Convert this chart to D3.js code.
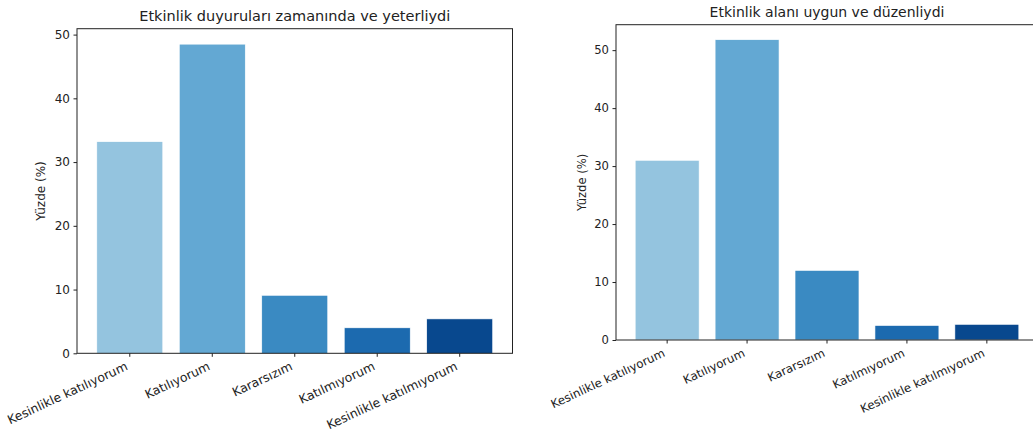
<!DOCTYPE html>
<html>
<head>
<meta charset="utf-8">
<script src="https://cdn.jsdelivr.net/npm/d3@7"></script>
<style>
    body { margin: 0; background: #fff; }
    text { font-family: "DejaVu Sans", sans-serif; fill: #222; }
</style>
</head>
<body>
<svg id="chart" width="1033" height="434"></svg>
<script>
var categories = ['Kesinlikle katılıyorum', 'Katılıyorum', 'Kararsızım', 'Katılmıyorum', 'Kesinlikle katılmıyorum'];
var announceValues = [33.2, 48.5, 9.1, 4.0, 5.4];
var venueValues = [31.0, 51.8, 12.0, 2.5, 2.7];
var titles = ['Etkinlik duyuruları zamanında ve yeterliydi', 'Etkinlik alanı uygun ve düzenliydi'];
var yTicks = [0, 10, 20, 30, 40, 50];
var colors = ['#94c4df', '#63a8d3', '#3a8ac2', '#1c6aaf', '#08488e'];

var svg = d3.select('#chart');

function drawPanel(cfg) {
    var g = svg.append('g');

    var x = d3.scaleBand()
        .domain(categories)
        .range([cfg.left, cfg.right])
        .paddingInner(0.2)
        .paddingOuter(0.24);

    var y = d3.scaleLinear()
        .domain([0, d3.max(cfg.values) * 1.05])
        .range([cfg.bottom, cfg.top]);

    g.selectAll('rect.bar')
        .data(cfg.values)
        .enter()
        .append('rect')
        .attr('class', 'bar')
        .attr('x', function (d, i) { return x(categories[i]); })
        .attr('width', x.bandwidth())
        .attr('y', function (d) { return y(d); })
        .attr('height', function (d) { return y(0) - y(d); })
        .style('fill', function (d, i) { return colors[i]; })
        .style('stroke', '#fff')
        .style('stroke-width', 0.6);

    // frame
    g.append('rect')
        .attr('x', cfg.left)
        .attr('y', cfg.top)
        .attr('width', cfg.right - cfg.left)
        .attr('height', cfg.bottom - cfg.top)
        .style('fill', 'none')
        .style('stroke', '#222')
        .style('stroke-width', 1);

    var yAxis = g.append('g')
        .attr('transform', 'translate(' + cfg.left + ',0)')
        .call(d3.axisLeft(y).tickValues(yTicks).tickSize(3.5).tickPadding(3.5));
    yAxis.select('.domain').remove();
    yAxis.selectAll('text').style('font-size', cfg.fs + 'px').style('fill', '#222');
    yAxis.selectAll('line').style('stroke', '#222');

    var xAxis = g.append('g')
        .attr('transform', 'translate(0,' + cfg.bottom + ')')
        .call(d3.axisBottom(x).tickSize(3.5).tickFormat(''));
    xAxis.select('.domain').remove();
    xAxis.selectAll('line').style('stroke', '#222');

    // rotated labels, right end on the tick like ha='right'
    g.selectAll('text.xlab')
        .data(categories)
        .enter()
        .append('text')
        .attr('class', 'xlab')
        .attr('transform', function (d) {
            return 'translate(' + (x(d) + x.bandwidth() / 2 - 1.3) + ',' + (cfg.bottom + 16) + ') rotate(-25)';
        })
        .attr('text-anchor', 'end')
        .style('font-size', cfg.xfs + 'px')
        .text(function (d) { return d; });

    g.append('text')
        .attr('transform', 'translate(' + cfg.labelX + ',' + (cfg.top + cfg.bottom) / 2 + ') rotate(-90)')
        .attr('text-anchor', 'middle')
        .attr('dy', '0.35em')
        .style('font-size', cfg.fs + 'px')
        .text('Yüzde (%)');

    g.append('text')
        .attr('x', (cfg.left + cfg.right) / 2)
        .attr('y', cfg.top - 7.5)
        .attr('text-anchor', 'middle')
        .style('font-size', cfg.titleFs + 'px')
        .text(cfg.title);
}

drawPanel({
    values: announceValues, title: titles[0],
    left: 77, right: 512.5, top: 28.7, bottom: 353.3,
    labelX: 41, fs: 12, xfs: 12.3, titleFs: 14.5
});

drawPanel({
    values: venueValues, title: titles[1],
    left: 616, right: 1038, top: 24.7, bottom: 340,
    labelX: 582, fs: 11.6, xfs: 11.7, titleFs: 14
});
</script>
</body>
</html>
